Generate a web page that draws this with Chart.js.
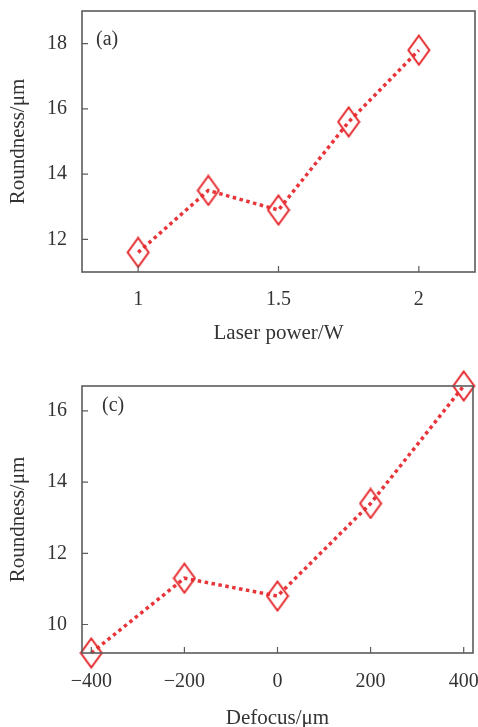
<!DOCTYPE html>
<html lang="en">

<head>
    <meta charset="UTF-8">
    <title>Roundness vs laser power and defocus</title>
    <script src="https://cdn.jsdelivr.net/npm/chart.js"></script>
    <style>
        body {
            margin: 0;
            background: #fff;
        }

        canvas {
            display: block;
        }
    </style>
</head>

<body>
    <canvas id="powerChart" width="478" height="360"></canvas>
    <canvas id="defocusChart" width="478" height="367"></canvas>

    <script>
        // (a) roundness against laser power
        const powerValues = [1, 1.25, 1.5, 1.75, 2];
        const powerRoundness = [11.6, 13.5, 12.9, 15.6, 17.8];
        const powerTicks = [1, 1.5, 2];
        const powerRoundTicks = [12, 14, 16, 18];

        // (c) roundness against defocus
        const defocusValues = [-400, -200, 0, 200, 400];
        const defocusRoundness = [9.2, 11.3, 10.8, 13.4, 16.7];
        const defocusTicks = [-400, -200, 0, 200, 400];
        const defocusRoundTicks = [10, 12, 14, 16];

        const RED = '#e8353a';
        const AXIS = '#5c5c5c';
        const TEXT = '#333333';
        const SERIF = '"Liberation Serif", "Times New Roman", serif';
        const FONT = { family: SERIF, size: 20 };
        const TITLE_FONT = { family: SERIF, size: 21 };

        // tall hollow diamond marker
        function diamond() {
            const c = document.createElement('canvas');
            c.width = 24;
            c.height = 32;
            const g = c.getContext('2d');
            g.strokeStyle = '#e52a2e';
            g.lineWidth = 2;
            g.beginPath();
            g.moveTo(12, 1.5);
            g.lineTo(22.5, 16);
            g.lineTo(12, 30.5);
            g.lineTo(1.5, 16);
            g.closePath();
            g.stroke();
            return c;
        }
        const marker = diamond();

        // box frame plus inward tick marks
        const framePlugin = {
            id: 'frame',
            afterDraw(chart, args, opts) {
                const { ctx, chartArea: a, scales } = chart;
                ctx.save();
                ctx.strokeStyle = AXIS;
                ctx.lineWidth = 1.6;
                ctx.strokeRect(a.left, a.top, a.right - a.left, a.bottom - a.top);
                ctx.lineWidth = 1.2;
                ctx.beginPath();
                scales.x.ticks.forEach(t => {
                    const px = scales.x.getPixelForValue(t.value);
                    ctx.moveTo(px, a.bottom);
                    ctx.lineTo(px, a.bottom - 6);
                });
                scales.y.ticks.forEach(t => {
                    const py = scales.y.getPixelForValue(t.value);
                    ctx.moveTo(a.left, py);
                    ctx.lineTo(a.left + 6, py);
                });
                ctx.stroke();
                ctx.fillStyle = TEXT;
                ctx.font = '20px ' + SERIF;
                ctx.textBaseline = 'middle';
                ctx.fillText(opts.tag, a.left + opts.tagX, a.top + opts.tagY);
                ctx.restore();
            }
        };

        function fmt(v) {
            return v < 0 ? '\u2212' + Math.abs(v) : String(v);
        }

        function makeChart(id, xs, ys, xTicks, yTicks, cfg) {
            new Chart(document.getElementById(id), {
                type: 'line',
                data: {
                    datasets: [{
                        data: xs.map((x, i) => ({ x: x, y: ys[i] })),
                        borderColor: RED,
                        borderWidth: 3.5,
                        borderDash: [3.5, 3.5],
                        borderCapStyle: 'butt',
                        pointStyle: marker,
                        pointRadius: 12,
                        clip: false
                    }]
                },
                plugins: [framePlugin],
                options: {
                    responsive: false,
                    animation: false,
                    layout: {
                        autoPadding: false,
                        padding: { top: cfg.top, right: cfg.right, left: 0, bottom: 0 }
                    },
                    plugins: {
                        legend: { display: false },
                        tooltip: { enabled: false },
                        frame: { tag: cfg.tag, tagX: cfg.tagX, tagY: cfg.tagY }
                    },
                    scales: {
                        x: {
                            type: 'linear',
                            min: cfg.xMin,
                            max: cfg.xMax,
                            grid: { display: false },
                            border: { display: false },
                            afterBuildTicks: s => { s.ticks = xTicks.map(v => ({ value: v })); },
                            afterFit: s => {
                                s.height = cfg.xHeight;
                                s.paddingLeft = 0;
                                s.paddingRight = 0;
                            },
                            ticks: {
                                color: TEXT,
                                font: FONT,
                                padding: cfg.xPad,
                                maxRotation: 0,
                                callback: v => fmt(v)
                            },
                            title: {
                                display: true,
                                text: cfg.xTitle,
                                color: TEXT,
                                font: TITLE_FONT,
                                padding: { top: 0, bottom: cfg.xTitlePad }
                            }
                        },
                        y: {
                            min: cfg.yMin,
                            max: cfg.yMax,
                            grid: { display: false },
                            border: { display: false },
                            afterBuildTicks: s => { s.ticks = yTicks.map(v => ({ value: v })); },
                            afterFit: s => {
                                s.width = 82;
                                s.paddingTop = 0;
                                s.paddingBottom = 0;
                            },
                            ticks: {
                                color: TEXT,
                                font: FONT,
                                padding: 7,
                                callback: v => fmt(v)
                            },
                            title: {
                                display: true,
                                text: 'Roundness/\u03bcm',
                                color: TEXT,
                                font: TITLE_FONT,
                                padding: { top: 6, bottom: 0 }
                            }
                        }
                    }
                }
            });
        }

        makeChart('powerChart', powerValues, powerRoundness, powerTicks, powerRoundTicks, {
            top: 11, right: 3, xHeight: 88, xPad: 8, xTitlePad: 14,
            xMin: 0.8, xMax: 2.2, yMin: 11, yMax: 19,
            xTitle: 'Laser power/W', tag: '(a)', tagX: 14, tagY: 29
        });

        makeChart('defocusChart', defocusValues, defocusRoundness, defocusTicks, defocusRoundTicks, {
            top: 26, right: 5, xHeight: 74, xPad: 9, xTitlePad: -4,
            xMin: -420, xMax: 420, yMin: 9.2, yMax: 16.7,
            xTitle: 'Defocus/\u03bcm', tag: '(c)', tagX: 20, tagY: 20
        });
    </script>
</body>

</html>
